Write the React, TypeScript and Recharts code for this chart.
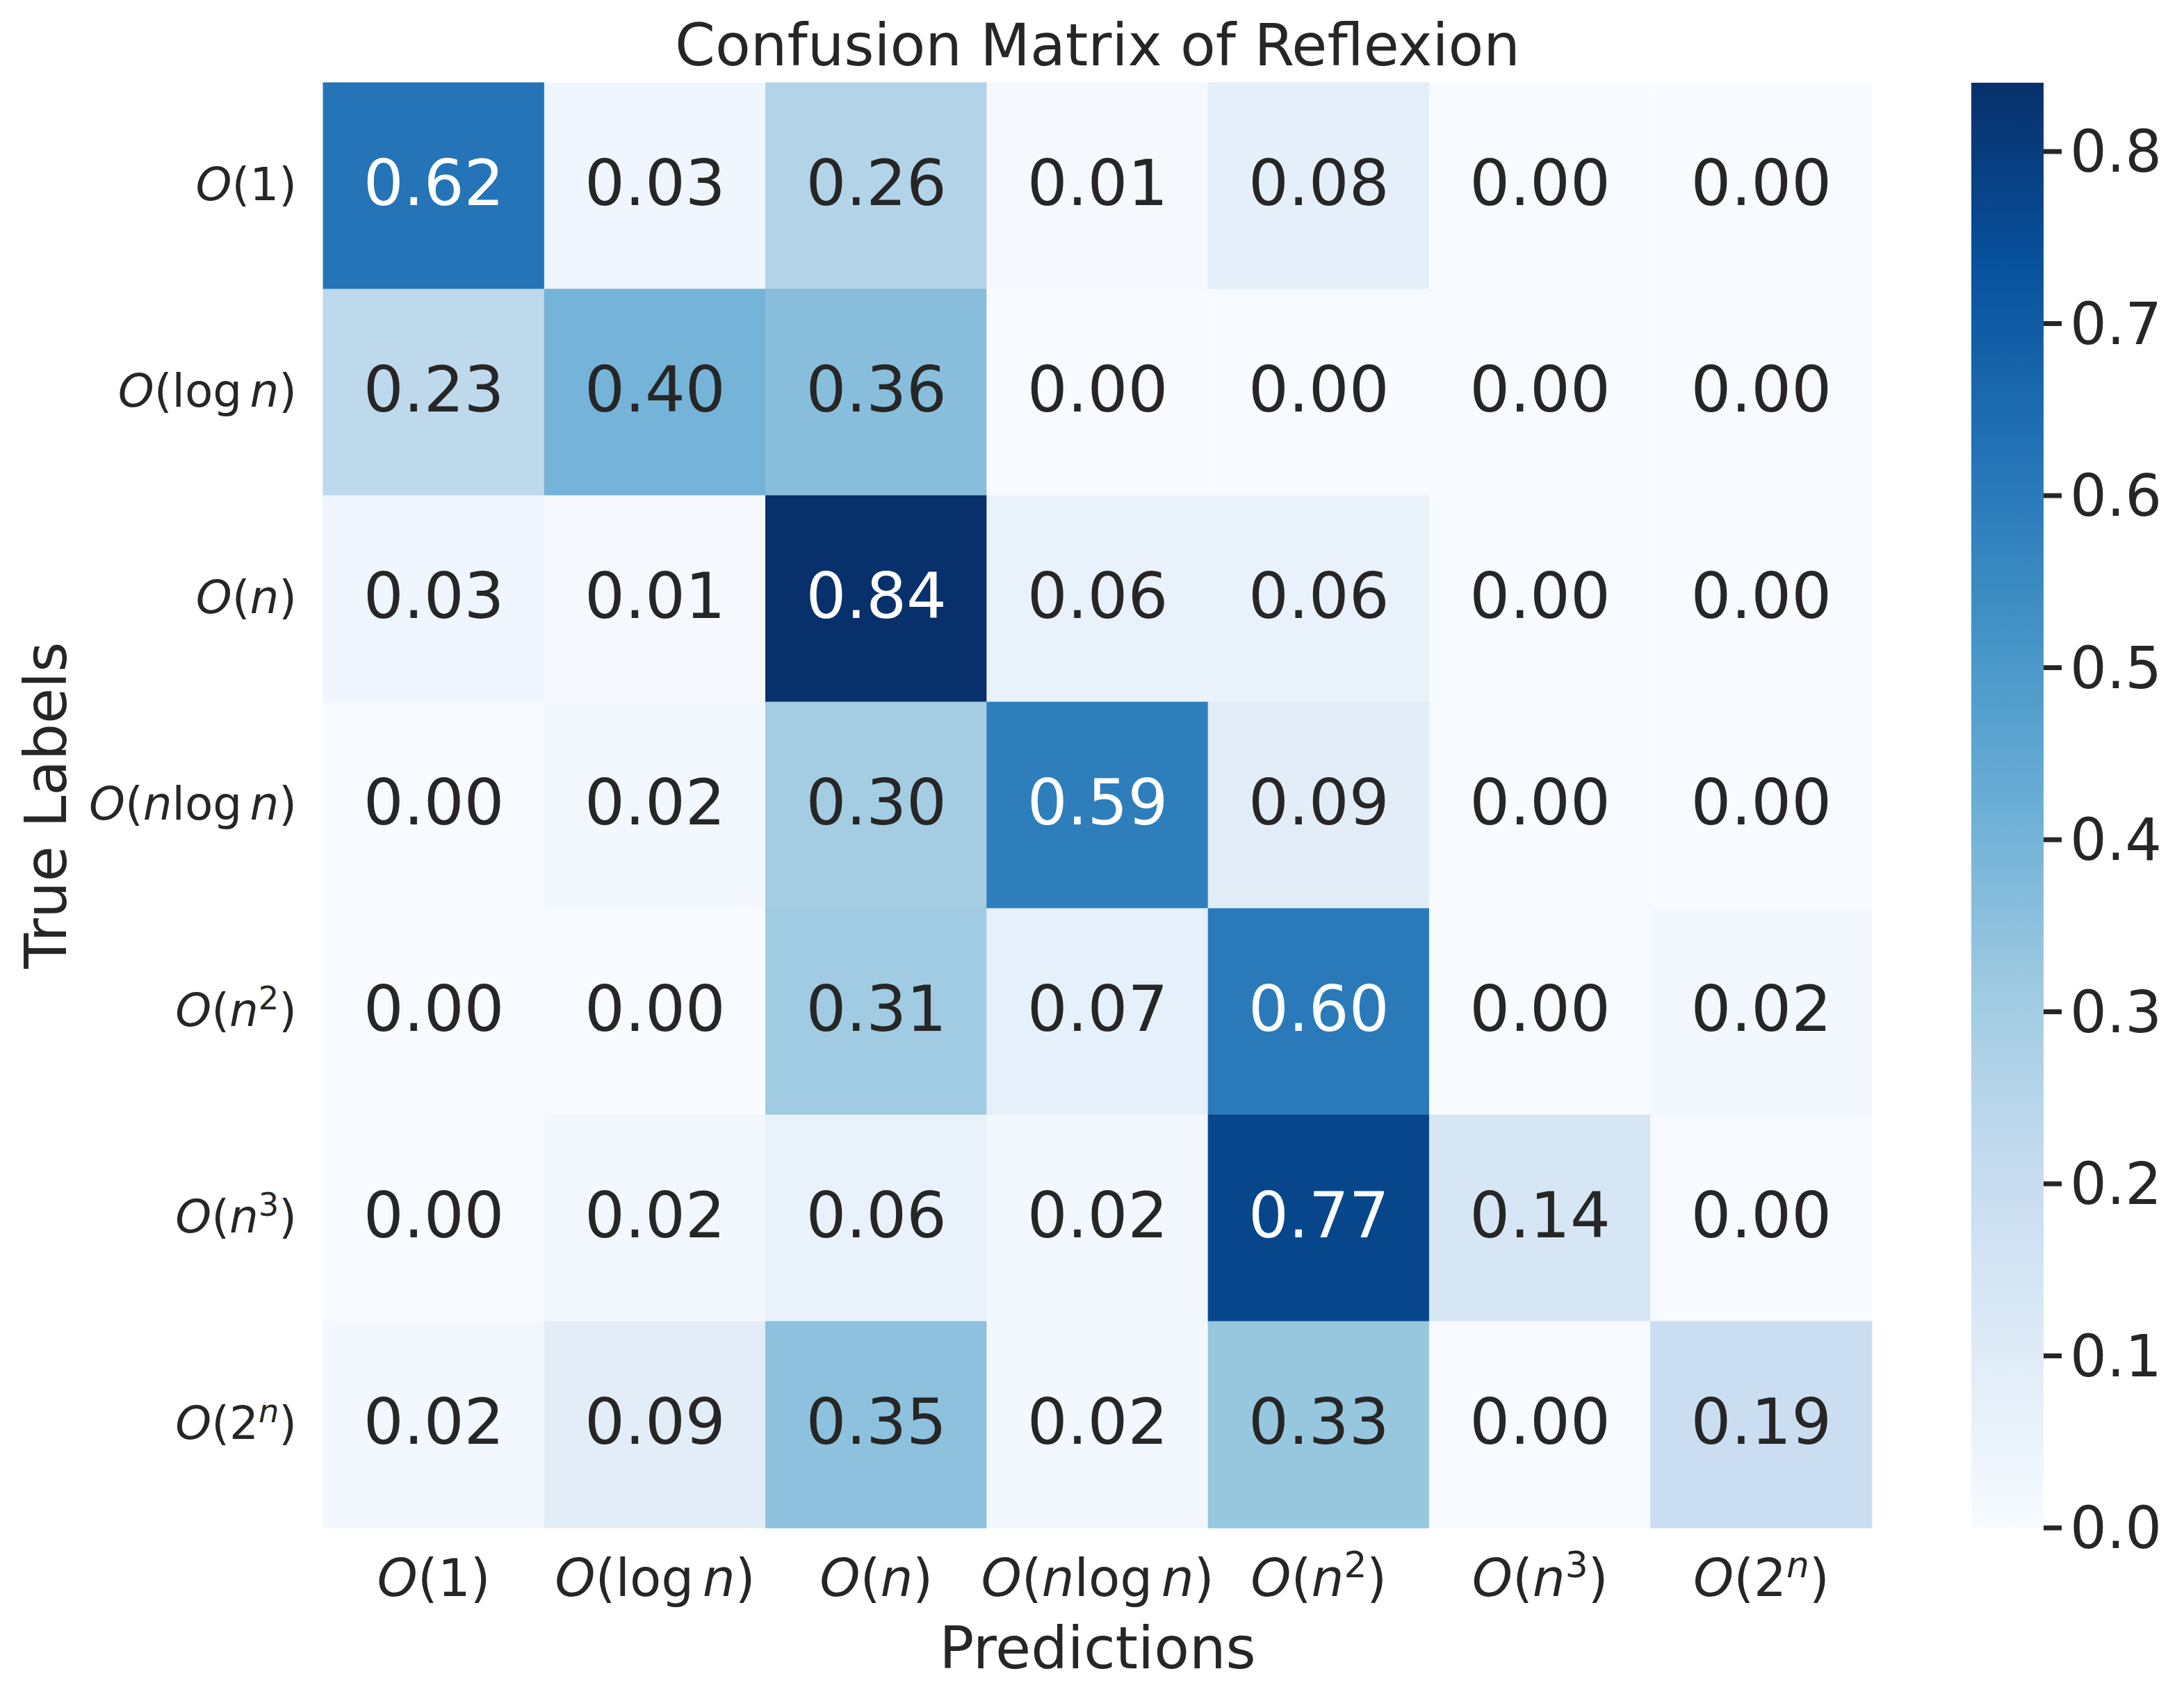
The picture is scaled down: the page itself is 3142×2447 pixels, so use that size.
import React from "react";
import { BarChart, Bar, XAxis, YAxis, Cell, LabelList } from "recharts";

// axis categories (mathtext-ish: ^ = superscript, "log" upright)
const trueLabels = ["O(1)", "O(log n)", "O(n)", "O(nlog n)", "O(n^2)", "O(n^3)", "O(2^n)"];
const predLabels = ["O(1)", "O(log n)", "O(n)", "O(nlog n)", "O(n^2)", "O(n^3)", "O(2^n)"];

// normalized confusion matrix, one array per true label
const rowO1 = [0.62, 0.03, 0.26, 0.01, 0.08, 0.0, 0.0];
const rowLogN = [0.23, 0.4, 0.36, 0.0, 0.0, 0.0, 0.0];
const rowN = [0.03, 0.01, 0.84, 0.06, 0.06, 0.0, 0.0];
const rowNLogN = [0.0, 0.02, 0.3, 0.59, 0.09, 0.0, 0.0];
const rowN2 = [0.0, 0.0, 0.31, 0.07, 0.6, 0.0, 0.02];
const rowN3 = [0.0, 0.02, 0.06, 0.02, 0.77, 0.14, 0.0];
const row2N = [0.02, 0.09, 0.35, 0.02, 0.33, 0.0, 0.19];
const matrix = [rowO1, rowLogN, rowN, rowNLogN, rowN2, rowN3, row2N];

const colorbarTicks = [0, 0.1, 0.2, 0.3, 0.4, 0.5, 0.6, 0.7, 0.8];

const vmax = Math.max(...matrix.flat());
const FONT = "DejaVu Sans";
const INK = "#262626";

// matplotlib "Blues"
const BLUES = ["#f7fbff", "#deebf7", "#c6dbef", "#9ecae1", "#6baed6", "#4292c6", "#2171b5", "#08519c", "#08306b"];
const hex2rgb = (h: string) => [1, 3, 5].map((i) => parseInt(h.slice(i, i + 2), 16));

function bluesRgb(t: number) {
  const c = Math.max(0, Math.min(1, t)) * (BLUES.length - 1);
  const i = Math.min(Math.floor(c), BLUES.length - 2);
  const f = c - i;
  const a = hex2rgb(BLUES[i]);
  const b = hex2rgb(BLUES[i + 1]);
  return a.map((v, k) => v + (b[k] - v) * f);
}
const blues = (v: number) => {
  const [r, g, b] = bluesRgb(v / vmax);
  return `rgb(${Math.round(r)},${Math.round(g)},${Math.round(b)})`;
};
// seaborn picks annotation colour from cell luminance
function textColor(v: number) {
  const lin = bluesRgb(v / vmax).map((c) => {
    const s = c / 255;
    return s <= 0.03928 ? s / 12.92 : Math.pow((s + 0.055) / 1.055, 2.4);
  });
  const lum = 0.2126 * lin[0] + 0.7152 * lin[1] + 0.0722 * lin[2];
  return lum > 0.408 ? INK : "#ffffff";
}

// table for the stacked grid: every cell one unit wide
const gridData = trueLabels.map((label, i) => {
  const row: Record<string, any> = { label };
  matrix[i].forEach((v, j) => {
    row[`c${j}`] = 1;
    row[`v${j}`] = v;
  });
  return row;
});
const colorbarData = [{ name: "cb", v: vmax }];

function mathSpans(label: string, size: number) {
  const out: React.ReactNode[] = [];
  let i = 0;
  let raised = false;
  let pendingDx = 0;
  const shift = size * 0.36;
  while (i < label.length) {
    const key = out.length;
    if (label.startsWith("log", i)) {
      out.push(
        <tspan key={key} fontStyle="normal" dx={pendingDx || undefined} dy={raised ? shift : undefined}>
          log
        </tspan>
      );
      raised = false;
      pendingDx = 0;
      i += 3;
      continue;
    }
    const ch = label[i];
    if (ch === " ") {
      pendingDx += size * 0.17;
      i += 1;
      continue;
    }
    if (ch === "^") {
      const s = label[i + 1];
      out.push(
        <tspan key={key} fontSize={size * 0.7} dy={-shift} fontStyle={/[a-z]/i.test(s) ? "italic" : "normal"}>
          {s}
        </tspan>
      );
      raised = true;
      i += 2;
      continue;
    }
    out.push(
      <tspan
        key={key}
        fontStyle={/[a-z]/i.test(ch) ? "italic" : "normal"}
        dx={pendingDx || undefined}
        dy={raised ? shift : undefined}
      >
        {ch}
      </tspan>
    );
    raised = false;
    pendingDx = 0;
    i += 1;
  }
  return out;
}

const XTick = ({ x, y, payload }: any) => (
  <text x={x} y={y + 98} textAnchor="middle" fontSize={74} fill={INK} fontFamily={FONT}>
    {mathSpans(predLabels[Math.floor(payload.value)], 74)}
  </text>
);

const YTick = ({ x, y, payload }: any) => (
  <text x={x - 38} y={y + 20} textAnchor="end" fontSize={66} fill={INK} fontFamily={FONT}>
    {mathSpans(payload.value, 66)}
  </text>
);

const renderAnnot = (props: any) => {
  const { x, y, width, height, value } = props;
  return (
    <text
      x={x + width / 2}
      y={y + height / 2 + 27}
      textAnchor="middle"
      fontSize={91}
      fill={textColor(value)}
      fontFamily={FONT}
    >
      {Number(value).toFixed(2)}
    </text>
  );
};

const renderXLabel = (props: any) => {
  const vb = props.viewBox;
  return (
    <text x={vb.x + vb.width / 2} y={vb.y + 202} textAnchor="middle" fontSize={83} fill={INK} fontFamily={FONT}>
      Predictions
    </text>
  );
};

const renderYLabel = (props: any) => {
  const vb = props.viewBox;
  const cx = vb.x - 70;
  const cy = vb.y + vb.height / 2;
  return (
    <text
      x={cx}
      y={cy}
      transform={`rotate(-90, ${cx}, ${cy})`}
      textAnchor="middle"
      fontSize={83}
      fill={INK}
      fontFamily={FONT}
    >
      True Labels
    </text>
  );
};

export default function App() {
  return (
    <div style={{ position: "absolute", left: 0, top: 0, width: 3142, height: 2447, background: "#fff", fontFamily: FONT }}>
      <div
        style={{
          position: "absolute",
          left: 465,
          top: 24,
          width: 2228,
          textAlign: "center",
          fontSize: 83,
          lineHeight: "83px",
          color: INK,
        }}
      >
        Confusion Matrix of Reflexion
      </div>

      <div style={{ position: "absolute", left: 0, top: 0 }}>
        <BarChart
          width={2760}
          height={2447}
          data={gridData}
          layout="vertical"
          barCategoryGap={0}
          barGap={0}
          margin={{ top: 119, right: 67, bottom: 0, left: 165 }}
        >
          <XAxis
            type="number"
            domain={[0, predLabels.length]}
            ticks={predLabels.map((_, i) => i + 0.5)}
            interval={0}
            height={249}
            tickSize={0}
            tickMargin={0}
            axisLine={false}
            tickLine={false}
            tick={<XTick />}
            label={renderXLabel}
          />
          <YAxis
            type="category"
            dataKey="label"
            width={300}
            interval={0}
            tickSize={0}
            tickMargin={0}
            axisLine={false}
            tickLine={false}
            tick={<YTick />}
            label={renderYLabel}
          />
          {predLabels.map((_, j) => (
            <Bar key={j} dataKey={`c${j}`} stackId="grid" isAnimationActive={false}>
              {gridData.map((row, i) => (
                <Cell key={i} fill={blues(row[`v${j}`])} stroke={blues(row[`v${j}`])} strokeWidth={1} />
              ))}
              <LabelList dataKey={`v${j}`} content={renderAnnot} />
            </Bar>
          ))}
        </BarChart>
      </div>

      <div style={{ position: "absolute", left: 2700, top: 0 }}>
        <BarChart
          width={442}
          height={2447}
          data={colorbarData}
          barCategoryGap={0}
          margin={{ top: 119, right: 0, bottom: 249, left: 136 }}
        >
          <defs>
            <linearGradient id="bluesGrad" x1="0" y1="1" x2="0" y2="0">
              {BLUES.map((c, i) => (
                <stop key={i} offset={`${(i / (BLUES.length - 1)) * 100}%`} stopColor={c} />
              ))}
            </linearGradient>
          </defs>
          <XAxis dataKey="name" hide />
          <YAxis
            orientation="right"
            type="number"
            domain={[0, vmax]}
            ticks={colorbarTicks}
            interval={0}
            width={202}
            axisLine={false}
            tickSize={26}
            tickMargin={12}
            tickLine={{ stroke: INK, strokeWidth: 7 }}
            tickFormatter={(v: number) => v.toFixed(1)}
            tick={{ fontSize: 83, fill: INK, fontFamily: FONT }}
          />
          <Bar dataKey="v" fill="url(#bluesGrad)" isAnimationActive={false} />
        </BarChart>
      </div>
    </div>
  );
}
